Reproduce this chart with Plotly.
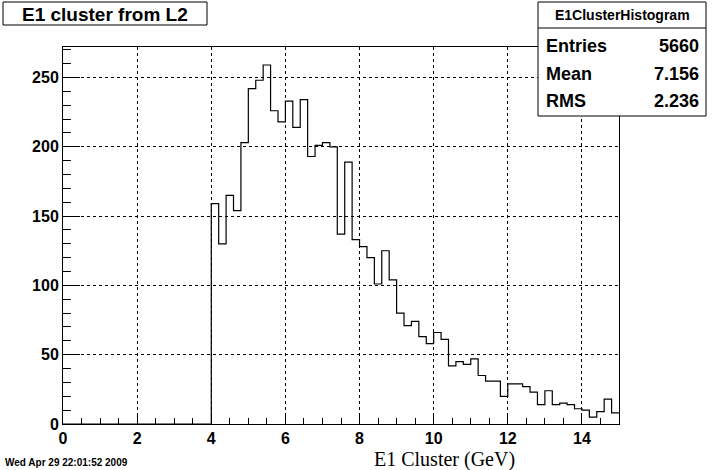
import plotly.graph_objects as go

# ---- data ----
bin_start = 4.0
bin_width = 0.2
counts = [159, 130, 165, 154, 203, 242, 248, 259, 226, 218,
          233, 214, 234, 193, 201, 203, 200, 137, 189, 133,
          128, 120, 101, 125, 104, 80, 71, 74, 63, 58,
          66, 61, 42, 45, 43, 47, 35, 31, 31, 20,
          29, 29, 27, 23, 14, 24, 14, 15, 14, 11,
          10, 5, 9, 18, 8]
x_ticks = [0, 2, 4, 6, 8, 10, 12, 14]
y_ticks = [0, 50, 100, 150, 200, 250]
title_text = "E1 cluster from L2"
stats_name = "E1ClusterHistogram"
stats_labels = ["Entries", "Mean", "RMS"]
stats_values = ["5660", "7.156", "2.236"]
x_title = "E1 Cluster (GeV)"
date_text = "Wed Apr 29 22:01:52 2009"

# ---- build step line ----
edges = [round(bin_start + bin_width * i, 4) for i in range(len(counts) + 1)]
xs = [0.0] + edges
ys = [0] + counts + [counts[-1]]

W, H = 720, 470
L, R, T, B = 63, 619, 47, 424


def px(x):
    return (x - L) / (R - L)


def py(y):
    return (B - y) / (B - T)


fig = go.Figure()
fig.add_trace(go.Scatter(x=xs, y=ys, mode="lines", line_shape="hv",
                         line=dict(color="black", width=1.2),
                         hoverinfo="skip", showlegend=False, cliponaxis=True))

tickfont = dict(family="Liberation Sans", size=16, color="black", weight="bold")

fig.update_layout(
    width=W, height=H,
    margin=dict(l=L, r=W - R, t=T, b=H - B, pad=0),
    paper_bgcolor="white", plot_bgcolor="white",
    xaxis=dict(range=[0, 15], tickvals=x_ticks, ticks="inside", ticklen=11,
               tickcolor="black", tickwidth=1, showline=True, linecolor="black",
               linewidth=1, mirror=True, showgrid=True, gridcolor="black",
               griddash="dot", gridwidth=1, zeroline=False, tickfont=tickfont,
               minor=dict(dtick=0.5, ticks="inside", ticklen=6, tickcolor="black",
                          showgrid=False)),
    yaxis=dict(range=[0, 272], tickvals=y_ticks, ticks="inside", ticklen=17,
               tickcolor="black", tickwidth=1, showline=True, linecolor="black",
               linewidth=1, mirror=True, showgrid=True, gridcolor="black",
               griddash="dot", gridwidth=1, zeroline=False, tickfont=tickfont,
               minor=dict(dtick=10, ticks="inside", ticklen=8, tickcolor="black",
                          showgrid=False)),
)

shapes = []
annos = []
# title box
shapes.append(dict(type="rect", xref="paper", yref="paper",
                   x0=px(3), x1=px(207), y0=py(25), y1=py(2),
                   line=dict(color="black", width=1), fillcolor="white", layer="above"))
annos.append(dict(xref="paper", yref="paper", x=px(105), y=py(14), text="<b>%s</b>" % title_text,
                  showarrow=False, xanchor="center", yanchor="middle",
                  font=dict(family="Liberation Sans", size=19, color="black")))
# stats box
shapes.append(dict(type="rect", xref="paper", yref="paper",
                   x0=px(538), x1=px(706), y0=py(116), y1=py(2),
                   line=dict(color="black", width=1), fillcolor="white", layer="above"))
shapes.append(dict(type="line", xref="paper", yref="paper",
                   x0=px(538), x1=px(706), y0=py(28), y1=py(28),
                   line=dict(color="black", width=1), layer="above"))
annos.append(dict(xref="paper", yref="paper", x=px(622), y=py(15), text="<b>%s</b>" % stats_name,
                  showarrow=False, xanchor="center", yanchor="middle",
                  font=dict(family="Liberation Sans", size=14, color="black")))
row_y = [46, 74, 101]
for lab, val, yy in zip(stats_labels, stats_values, row_y):
    annos.append(dict(xref="paper", yref="paper", x=px(544), y=py(yy), text="<b>%s</b>" % lab,
                      showarrow=False, xanchor="left", yanchor="middle",
                      font=dict(family="Liberation Sans", size=18, color="black")))
    annos.append(dict(xref="paper", yref="paper", x=px(701), y=py(yy), text="<b>%s</b>" % val,
                      showarrow=False, xanchor="right", yanchor="middle",
                      font=dict(family="Liberation Sans", size=18, color="black")))
# x title
annos.append(dict(xref="paper", yref="paper", x=px(444), y=py(459), text=x_title,
                  showarrow=False, xanchor="center", yanchor="middle",
                  font=dict(family="Liberation Serif", size=20, color="black")))
# date
annos.append(dict(xref="paper", yref="paper", x=px(3), y=py(462), text="<b>%s</b>" % date_text,
                  showarrow=False, xanchor="left", yanchor="middle",
                  font=dict(family="Liberation Sans", size=10, color="black")))

fig.update_layout(shapes=shapes, annotations=annos)
fig.write_html("out.html", config={"displayModeBar": False},
               post_script="document.body.style.margin='0px';document.body.style.overflow='hidden';")
